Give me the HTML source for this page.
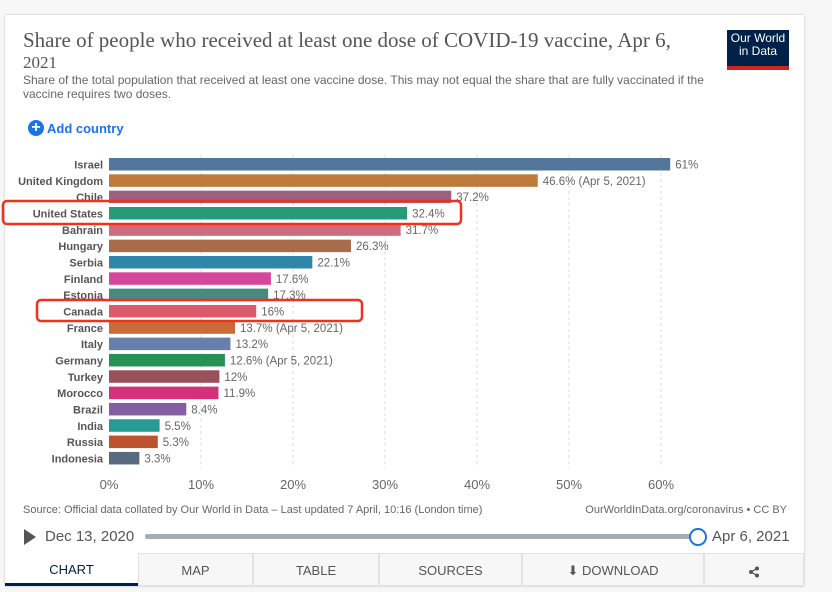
<!DOCTYPE html>
<html><head><meta charset="utf-8"><style>
body{margin:0;width:832px;height:592px;background:#f7f7f7;font-family:"Liberation Sans",sans-serif;overflow:hidden;position:relative}
.card{position:absolute;left:5px;top:15px;width:799px;height:571px;background:#fff;box-shadow:0 0 2px rgba(0,0,0,.25)}
.abs{position:absolute}
.tab{box-sizing:border-box;background:#f7f7f7;border:1px solid #e2e2e2;height:33px}
</style></head><body>
<div class="card"></div>
<div class="abs" style="left:23px;top:30px;width:680px;font-family:'Liberation Serif',serif;font-size:21px;line-height:21px;color:#555">Share of people who received at least one dose of COVID-19 vaccine, Apr 6,<br><span style="font-size:17px">2021</span></div>
<div class="abs" style="left:727px;top:30px;width:62px;height:34px;background:#002147;border-bottom:4px solid #ce261e;color:#fff;font-size:12px;line-height:13px;text-align:center;padding-top:2px;box-sizing:content-box">Our World<br>in Data</div>
<div class="abs" style="left:23px;top:73px;width:720px;font-size:12px;line-height:14px;color:#666">Share of the total population that received at least one vaccine dose. This may not equal the share that are fully vaccinated if the vaccine requires two doses.</div>
<div class="abs" style="left:28px;top:120px;font-size:13px;font-weight:bold;color:#1a73e8;display:flex;align-items:center"><span style="display:inline-block;width:16px;height:16px;border-radius:50%;background:#1a73e8;color:#fff;font-size:16px;line-height:16px;text-align:center;margin-right:3px">+</span>Add country</div>
<svg id="chart" class="abs" style="left:0;top:0" width="832" height="592"></svg>
<div class="abs" style="left:23px;top:504px;font-size:11px;color:#666">Source: Official data collated by Our World in Data – Last updated 7 April, 10:16 (London time)</div>
<div class="abs" style="right:45px;top:504px;font-size:11px;color:#666">OurWorldInData.org/coronavirus • CC BY</div>
<div class="abs" style="left:24px;top:529px;width:0;height:0;border-left:12px solid #555;border-top:8px solid transparent;border-bottom:8px solid transparent"></div>
<div class="abs" style="left:45px;top:528px;font-size:15px;color:#555">Dec 13, 2020</div>
<div class="abs" style="left:145px;top:534px;width:553px;height:5px;background:#a7adb8;border-radius:2px"></div>
<div class="abs" style="left:689px;top:528px;width:14px;height:14px;border-radius:50%;border:2px solid #1a73e8;background:#fff"></div>
<div class="abs" style="left:712px;top:528px;font-size:15px;color:#555">Apr 6, 2021</div>
<div class="abs" style="left:5px;top:553px;width:799px;height:33px;display:flex;font-size:13px;color:#555;text-align:center;line-height:33px">
<div style="box-sizing:border-box;width:133px;color:#002147;border-bottom:3px solid #002147;height:33px;line-height:33px">CHART</div>
<div class="tab" style="width:115px">MAP</div>
<div class="tab" style="width:126px">TABLE</div>
<div class="tab" style="width:143px">SOURCES</div>
<div class="tab" style="width:182px">⬇ DOWNLOAD</div>
<div class="tab" style="flex:1"><svg width="12" height="12" viewBox="0 0 12 12" style="vertical-align:middle"><circle cx="9" cy="2.5" r="2" fill="#555"/><circle cx="9" cy="9.5" r="2" fill="#555"/><circle cx="3" cy="6" r="2" fill="#555"/><path d="M9 2.5L3 6L9 9.5" stroke="#555" stroke-width="1.3" fill="none"/></svg></div>
</div>
<script>
const countries=["Israel","United Kingdom","Chile","United States","Bahrain","Hungary","Serbia","Finland","Estonia","Canada","France","Italy","Germany","Turkey","Morocco","Brazil","India","Russia","Indonesia"];
const values=[61,46.6,37.2,32.4,31.7,26.3,22.1,17.6,17.3,16,13.7,13.2,12.6,12,11.9,8.4,5.5,5.3,3.3];
const notes=["","(Apr 5, 2021)","","","","","","","","","(Apr 5, 2021)","","(Apr 5, 2021)","","","","","",""];
const colors=["#52779b","#be7a3c","#9c6080","#279a77","#cf6b7c","#a86c4b","#2f86a8","#d5479a","#468a80","#db5a6b","#c96c37","#6680ab","#259157","#98505a","#d6307b","#845ea3","#269a94","#bc532c","#576a80"];
const ticks=[0,10,20,30,40,50,60];
const svg=document.getElementById('chart');const NS='http://www.w3.org/2000/svg';
const x=v=>109+v*9.2; const y=i=>158+i*16.33;
function mk(t,a){const e=document.createElementNS(NS,t);for(const k in a)e.setAttribute(k,a[k]);svg.appendChild(e);return e;}
ticks.forEach(t=>{
 if(t>0){const l=mk('line',{x1:x(t),x2:x(t),y1:155,y2:468,stroke:'#ddd','stroke-dasharray':'3,3'});
 
 }
 const tx=mk('text',{x:x(t),y:489,'text-anchor':'middle','font-size':13,fill:'#666'});tx.textContent=t+'%';
 
 
});
countries.forEach((c,i)=>{
 const r=mk('rect',{x:x(0),y:y(i),width:x(values[i])-x(0),height:12.5,fill:colors[i]});
 
 
 const lb=mk('text',{x:103,y:y(i)+10.5,'text-anchor':'end','font-size':11,'font-weight':'bold',fill:'#555'});lb.textContent=c;
 
 
 const vl=mk('text',{x:x(values[i])+5,y:y(i)+10.5,'font-size':11.5,fill:'#666'});vl.textContent=values[i]+'%'+(notes[i]?' '+notes[i]:'');
 
 
});
const h1=mk('rect',{x:3,y:201,width:458,height:23,rx:4,fill:'none',stroke:'#f2311d','stroke-width':2.5});


const h2=mk('rect',{x:37,y:300,width:325,height:21,rx:4,fill:'none',stroke:'#f2311d','stroke-width':2.5});


</script>
</body></html>
